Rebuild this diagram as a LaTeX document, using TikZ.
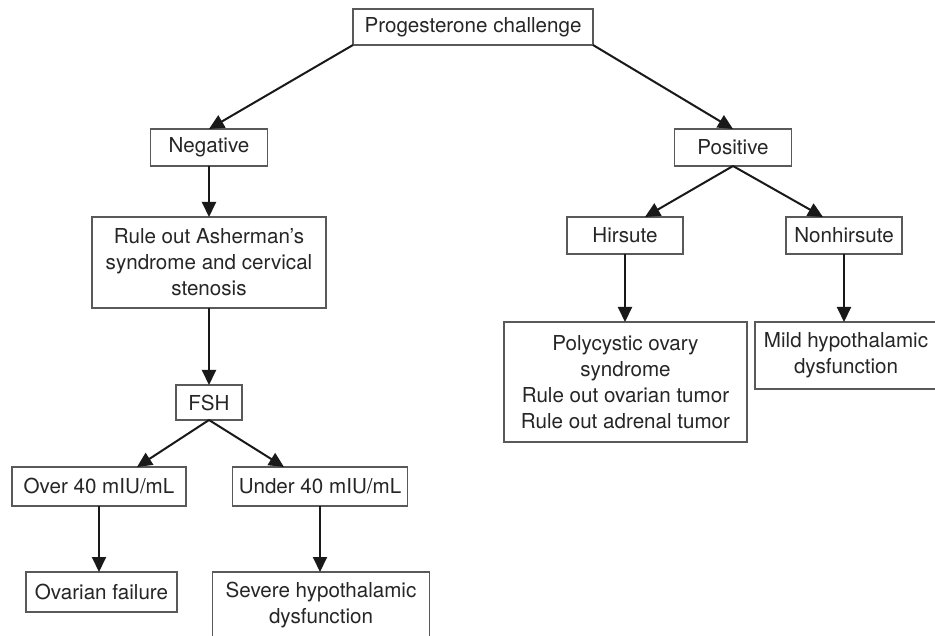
\documentclass[tikz,border=0pt]{standalone}
\usepackage{fontspec}
\setmainfont{TeX Gyre Heros}
\usepackage{xcolor}
\usetikzlibrary{arrows.meta,positioning}

\begin{document}
\begin{tikzpicture}[
  x=1pt, y=1pt,
  every node/.style={font=\fontsize{20.6pt}{26pt}\selectfont, text=black!85},
  box/.style={draw=black!65, line width=1.1pt, align=center, fill=white,
              inner sep=2pt, outer sep=0pt},
  arr/.style={-{Triangle[length=15pt,width=14pt]}, line width=2pt, black!90}
]
\useasboundingbox (0,0) rectangle (935,-636);

% Top
\node[box, minimum width=240pt, minimum height=36pt] (prog) at (473,-27) {Progesterone challenge};

% Negative branch
\node[box, minimum width=117pt, minimum height=37pt, below=84pt of prog, xshift=-264pt] (neg) {Negative};
\node[box, minimum width=234pt, minimum height=91pt, below=51pt of neg] (rule)
  {Rule out Asherman's\\syndrome and cervical\\stenosis};
\node[box, minimum width=66pt, minimum height=35pt, below=77pt of rule] (fsh) {FSH};
\node[box, minimum width=174pt, minimum height=39pt, below=47pt of fsh, xshift=-110pt] (over) {Over 40 mIU/mL};
\node[box, minimum width=175pt, minimum height=39pt, below=47pt of fsh, xshift=111pt] (under) {Under 40 mIU/mL};
\node[box, minimum width=151pt, minimum height=40pt, below=66pt of over, xshift=2.5pt] (ovf) {Ovarian failure};
\node[box, minimum width=217pt, minimum height=67pt, below=66pt of under, xshift=1pt] (severe)
  {Severe hypothalamic\\dysfunction};

% Positive branch
\node[box, minimum width=117pt, minimum height=37pt, below=84pt of prog, xshift=260pt] (pos) {Positive};
\node[box, minimum width=116pt, minimum height=37pt, below=51pt of pos, xshift=-108pt] (hir) {Hirsute};
\node[box, minimum width=116pt, minimum height=37pt, below=51pt of pos, xshift=111pt] (nonh) {Nonhirsute};
\node[box, minimum width=243pt, minimum height=120pt, below=68pt of hir, xshift=0.5pt] (pcos)
  {Polycystic ovary\\syndrome\\Rule out ovarian tumor\\Rule out adrenal tumor};
\node[box, minimum width=182pt, minimum height=67pt, below=68pt of nonh, xshift=2pt] (mild)
  {Mild hypothalamic\\dysfunction};

% Arrows
\draw[arr] (prog.south west) -- (neg.north);
\draw[arr] (prog.south east) -- (pos.north);
\draw[arr] (neg) -- (rule);
\draw[arr] (rule) -- (fsh);
\draw[arr] (fsh.south) -- ([xshift=38pt]over.north);
\draw[arr] (fsh.south) -- ([xshift=-36pt]under.north);
\draw[arr] (over.south) -- (over.south |- ovf.north);
\draw[arr] (under.south) -- (under.south |- severe.north);
\draw[arr] (pos.south) -- ([xshift=20pt]hir.north);
\draw[arr] (pos.south) -- ([xshift=-21pt]nonh.north);
\draw[arr] (hir.south) -- (hir.south |- pcos.north);
\draw[arr] (nonh.south) -- (nonh.south |- mild.north);
\end{tikzpicture}
\end{document}
